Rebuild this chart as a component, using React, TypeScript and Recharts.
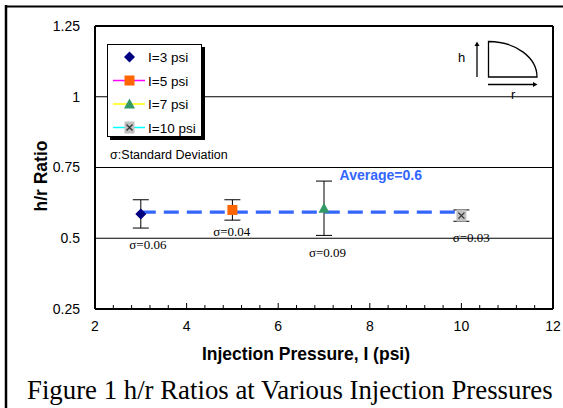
import React from 'react';
import {
  ComposedChart,
  XAxis,
  YAxis,
  CartesianGrid,
  Scatter,
  ErrorBar,
  ReferenceLine,
  ReferenceDot,
  Legend,
} from 'recharts';

const SANS = '"Liberation Sans", Arial, sans-serif';
const SERIF = '"Liberation Serif", "Times New Roman", serif';

// readings
const pressures = [3, 5, 7, 10];
const ratios = [0.586, 0.6, 0.606, 0.58];
const errors = [0.05, 0.036, 0.096, 0.02];
const seriesNames = ['I=3 psi', 'I=5 psi', 'I=7 psi', 'I=10 psi'];
const legendLines = ['none', '#FF00FF', '#FFFF00', '#00FFFF'];

const average = 0.592;
const averageFrom = 3;
const averageTo = 10;
const averageText = 'Average=0.6';
const averageTextAt = { x: 7.34, y: 0.706 };

const sigmaTexts = ['σ=0.06', 'σ=0.04', 'σ=0.09', 'σ=0.03'];
const sigmaX = [2.75, 4.58, 6.67, 9.81];
const sigmaY = [0.462, 0.508, 0.435, 0.488];
const sigmaNote = 'σ:Standard Deviation';
const sigmaNoteAt = { x: 2.33, y: 0.78 };

const xTicks = [
  2, 2.4, 2.8, 3.2, 3.6, 4, 4.4, 4.8, 5.2, 5.6, 6, 6.4, 6.8, 7.2, 7.6, 8,
  8.4, 8.8, 9.2, 9.6, 10, 10.4, 10.8, 11.2, 11.6, 12,
];
const yTicks = [0.25, 0.5, 0.75, 1, 1.25];

const marker = (i: number, cx: number, cy: number) => {
  if (i === 0)
    return (
      <polygon
        points={`${cx},${cy - 5.5} ${cx + 5.5},${cy} ${cx},${cy + 5.5} ${cx - 5.5},${cy}`}
        fill="#000080"
      />
    );
  if (i === 1) return <rect x={cx - 5} y={cy - 5} width={10} height={10} fill="#FF6600" />;
  if (i === 2)
    return (
      <polygon
        points={`${cx},${cy - 5.5} ${cx + 5.5},${cy + 4.5} ${cx - 5.5},${cy + 4.5}`}
        fill="#339966"
      />
    );
  return (
    <g>
      <rect x={cx - 5} y={cy - 6} width={10} height={12} fill="#C0C0C0" />
      <path
        d={`M${cx - 3},${cy - 3} L${cx + 3},${cy + 3} M${cx + 3},${cy - 3} L${cx - 3},${cy + 3}`}
        stroke="#333"
        strokeWidth={1.3}
      />
    </g>
  );
};

const XTick = (props: any) => {
  const { x, y, payload } = props;
  const v = payload.value;
  const major = Math.abs(v - Math.round(v)) < 1e-6 && Math.round(v) % 2 === 0;
  return (
    <g>
      <line x1={x} x2={x} y1={y} y2={y - (major ? 6 : 4)} stroke="#000" strokeWidth={1} />
      {major && (
        <text x={x} y={y + 22} textAnchor="middle" fontSize={14} fontFamily={SANS} fill="#000">
          {v}
        </text>
      )}
    </g>
  );
};

const LegendBox = () => (
  <div
    style={{
      width: 95,
      height: 93,
      boxSizing: 'border-box',
      border: '1px solid #000',
      background: '#fff',
      boxShadow: '3px 3px 0 #000',
    }}
  >
    <svg width={93} height={91} style={{ display: 'block' }}>
      {seriesNames.map((name, i) => {
        const cy = 12 + i * 23.5;
        return (
          <g key={name}>
            {legendLines[i] !== 'none' && (
              <line x1={5} x2={37} y1={cy} y2={cy} stroke={legendLines[i]} strokeWidth={1.5} />
            )}
            {marker(i, 21.5, cy)}
            <text x={40} y={cy + 5} fontSize={13.5} fontFamily={SANS} fill="#000">
              {name}
            </text>
          </g>
        );
      })}
    </svg>
  </div>
);

const textDot = (text: string, style: any) => (p: any) => (
  <text x={p.cx} y={p.cy} {...style}>
    {text}
  </text>
);

export default function App() {
  return (
    <div style={{ position: 'absolute', left: 0, top: 0, width: 563, height: 408, background: '#fff' }}>
      <ComposedChart
        width={563}
        height={408}
        margin={{ top: 26, right: 10, bottom: 69, left: 35 }}
      >
        <CartesianGrid horizontal vertical={false} stroke="#000" strokeWidth={1} />
        <XAxis
          type="number"
          dataKey="x"
          domain={[2, 12]}
          ticks={xTicks}
          interval={0}
          height={30}
          tickSize={0}
          tickMargin={0}
          tickLine={false}
          axisLine={{ stroke: '#000', strokeWidth: 2 }}
          tick={<XTick />}
          label={() => (
            <text x={306} y={360} textAnchor="middle" fontSize={17.5} fontWeight="bold" fontFamily={SANS} fill="#000">
              Injection Pressure, I (psi)
            </text>
          )}
        />
        <YAxis
          type="number"
          dataKey="y"
          domain={[0.25, 1.25]}
          ticks={yTicks}
          width={60}
          tickSize={0}
          tickMargin={15}
          tickLine={false}
          axisLine={{ stroke: '#000', strokeWidth: 2 }}
          tick={{ fill: '#000', fontSize: 14, fontFamily: SANS }}
          label={() => (
            <text
              x={47}
              y={176}
              textAnchor="middle"
              fontSize={17.5}
              fontWeight="bold"
              fontFamily={SANS}
              fill="#000"
              transform="rotate(-90, 47, 176)"
            >
              h/r Ratio
            </text>
          )}
        />
        <ReferenceLine y={1.25} stroke="#000" strokeWidth={2} />
        <ReferenceLine x={12} stroke="#000" strokeWidth={2} />
        <ReferenceLine
          segment={[
            { x: averageFrom, y: average },
            { x: averageTo, y: average },
          ]}
          stroke="#3366FF"
          strokeWidth={3.3}
          strokeDasharray="15 8"
        />
        {pressures.map((p, i) => (
          <Scatter
            key={seriesNames[i]}
            name={seriesNames[i]}
            data={[{ x: p, y: ratios[i], err: errors[i] }]}
            dataKey="y"
            isAnimationActive={false}
            shape={(s: any) => marker(i, s.cx, s.cy)}
          >
            <ErrorBar dataKey="err" direction="y" width={8} stroke="#000" strokeWidth={1} />
          </Scatter>
        ))}
        {sigmaTexts.map((t, i) => (
          <ReferenceDot
            key={t}
            x={sigmaX[i]}
            y={sigmaY[i]}
            r={0}
            shape={textDot(t, { fontSize: 13, fontFamily: SERIF, fill: '#000' })}
          />
        ))}
        <ReferenceDot
          x={sigmaNoteAt.x}
          y={sigmaNoteAt.y}
          r={0}
          shape={textDot(sigmaNote, { fontSize: 12.5, fontFamily: SANS, fill: '#000' })}
        />
        <ReferenceDot
          x={averageTextAt.x}
          y={averageTextAt.y}
          r={0}
          shape={textDot(averageText, { fontSize: 14, fontWeight: 'bold', fontFamily: SANS, fill: '#3366FF' })}
        />
        <Legend
          layout="vertical"
          align="center"
          verticalAlign="middle"
          width={95}
          content={<LegendBox />}
          wrapperStyle={{ left: 107, top: 44, width: 95, height: 93 }}
        />
      </ComposedChart>
      <svg
        width={563}
        height={408}
        style={{ position: 'absolute', left: 0, top: 0, pointerEvents: 'none' }}
      >
        <line x1={6} x2={6} y1={5} y2={408} stroke="#000" strokeWidth={2.5} />
        <line x1={5} x2={563} y1={6.5} y2={6.5} stroke="#000" strokeWidth={2} />
        <text x={458} y={62} fontSize={13} fontFamily={SANS} fill="#000">h</text>
        <line x1={477} x2={477} y1={77} y2={44} stroke="#000" strokeWidth={1.3} />
        <path d="M474.5,46 L477,41.5 L479.5,46 Z" fill="#000" />
        <path d="M488.5,41.5 L488.5,77 L537,77 A48.5,35.5 0 0 0 488.5,41.5 Z" fill="none" stroke="#000" strokeWidth={1.3} />
        <line x1={488} x2={535} y1={84.5} y2={84.5} stroke="#000" strokeWidth={1.3} />
        <path d="M533,82 L537.5,84.5 L533,87 Z" fill="#000" />
        <text x={511} y={99} fontSize={13} fontFamily={SANS} fill="#000">r</text>
        <text x={27} y={399} fontSize={26.8} fontFamily={SERIF} fill="#000">
          Figure 1 h/r Ratios at Various Injection Pressures
        </text>
      </svg>
    </div>
  );
}
